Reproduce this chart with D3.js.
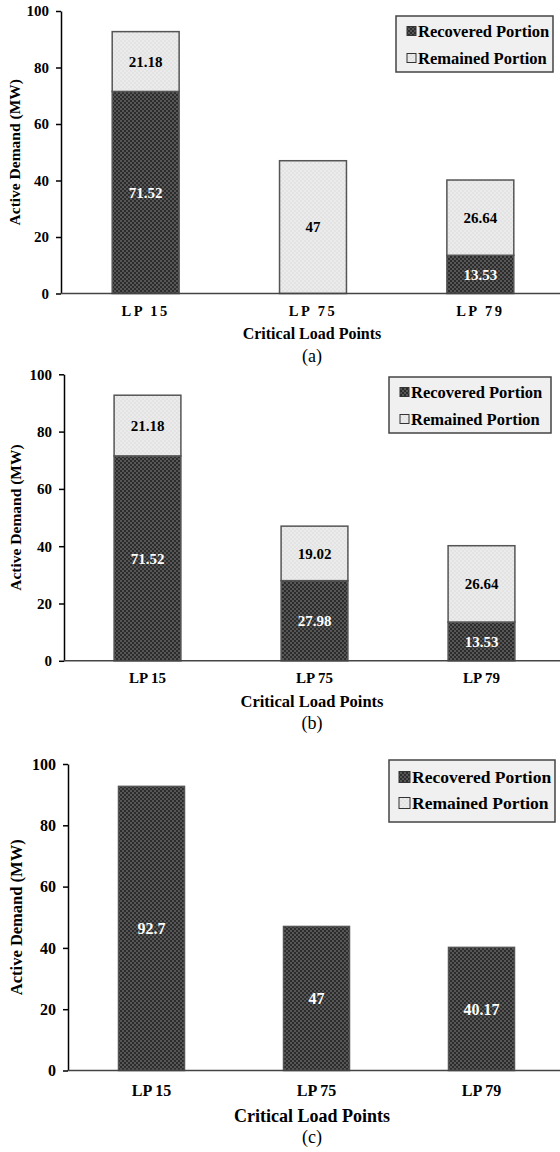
<!DOCTYPE html>
<html>
<head>
<meta charset="utf-8">
<script src="https://cdn.jsdelivr.net/npm/d3@7/dist/d3.min.js"></script>
<style>
  body { margin: 0; background: #fff; }
  svg { display: block; font-family: "Liberation Serif", "Times New Roman", serif; }
</style>
</head>
<body>
<svg id="chart" width="560" height="1152"></svg>
<script>
// data
var categories = ["LP 15", "LP 75", "LP 79"];
var yTicks = [0, 20, 40, 60, 80, 100];
var seriesNames = ["Recovered Portion", "Remained Portion"];

var recoveredA = [71.52, 0, 13.53];
var remainedA  = [21.18, 47, 26.64];
var recoveredB = [71.52, 27.98, 13.53];
var remainedB  = [21.18, 19.02, 26.64];
var recoveredC = [92.7, 47, 40.17];
var remainedC  = [0, 0, 0];

var panelLabels = ["(a)", "(b)", "(c)"];

// layout of the three panels
var panels = [
  {rec: recoveredA, rem: remainedA, x0: 61, xr: [62, 564], yTop: 11, yBot: 293.5,
   tickFs: 15, catFs: 14.5, catSpacing: 2.5, titleFs: 16, ylabFs: 15.5, valFs: 15, ylabX: 20,
   catY: 316, titleY: 339, labY: 362,
   legend: {x: 396, y: 16, w: 157, h: 56, fs: 16.5, sw: 9, r1: 31, r2: 58, sx: 407}},
  {rec: recoveredB, rem: remainedB, x0: 64, xr: [64, 565], yTop: 374.3, yBot: 660.8,
   tickFs: 15, catFs: 15, catSpacing: 0, titleFs: 16.5, ylabFs: 15.5, valFs: 15, ylabX: 21,
   catY: 683, titleY: 707, labY: 729,
   legend: {x: 389, y: 377, w: 162, h: 56, fs: 16.5, sw: 9, r1: 392, r2: 419, sx: 400}},
  {rec: recoveredC, rem: remainedC, x0: 68, xr: [69, 564], yTop: 764, yBot: 1070.5,
   tickFs: 16, catFs: 16, catSpacing: 0, titleFs: 18, ylabFs: 16.5, valFs: 16, ylabX: 22,
   catY: 1096, titleY: 1122, labY: 1143,
   legend: {x: 389, y: 760, w: 166, h: 62, fs: 17.5, sw: 11, r1: 777, r2: 803, sx: 399}}
];

var svg = d3.select("#chart");

// fill patterns
var defs = svg.append("defs");
var pDark = defs.append("pattern").attr("id", "dark")
  .attr("width", 4).attr("height", 4).attr("patternUnits", "userSpaceOnUse");
pDark.append("rect").attr("width", 4).attr("height", 4).attr("fill", "#2c2c2c");
pDark.append("circle").attr("cx", 1).attr("cy", 1).attr("r", 0.9).attr("fill", "#6a6a6a");
pDark.append("circle").attr("cx", 3).attr("cy", 3).attr("r", 0.9).attr("fill", "#6a6a6a");

var pLight = defs.append("pattern").attr("id", "light")
  .attr("width", 4).attr("height", 4).attr("patternUnits", "userSpaceOnUse");
pLight.append("rect").attr("width", 4).attr("height", 4).attr("fill", "#ebebeb");
pLight.append("circle").attr("cx", 1).attr("cy", 1).attr("r", 0.8).attr("fill", "#d9d9d9");
pLight.append("circle").attr("cx", 3).attr("cy", 3).attr("r", 0.8).attr("fill", "#d9d9d9");

var fills = ["url(#dark)", "url(#light)"];
var textColors = ["#fff", "#000"];

panels.forEach(function(p, pi) {
  var g = svg.append("g");

  var x = d3.scaleBand().domain(categories).range(p.xr).padding(0);
  var y = d3.scaleLinear().domain([0, 100]).range([p.yBot, p.yTop]);
  var bw = x.step() * 0.4;

  var rows = categories.map(function(c, i) {
    return {cat: c, rec: p.rec[i], rem: p.rem[i]};
  });
  var stack = d3.stack().keys(["rec", "rem"])(rows);

  // bars
  stack.forEach(function(layer, li) {
    layer.forEach(function(d) {
      var v = d[1] - d[0];
      if (v <= 0) return;
      var cx = x(d.data.cat) + x.bandwidth() / 2;
      g.append("rect")
        .attr("x", cx - bw / 2)
        .attr("y", y(d[1]))
        .attr("width", bw)
        .attr("height", y(d[0]) - y(d[1]))
        .attr("fill", fills[li])
        .attr("stroke", "#555")
        .attr("stroke-width", 1.5);
      g.append("text")
        .attr("x", cx)
        .attr("y", (y(d[0]) + y(d[1])) / 2)
        .attr("dy", "0.35em")
        .attr("text-anchor", "middle")
        .attr("font-size", p.valFs)
        .attr("font-weight", "bold")
        .attr("fill", textColors[li])
        .text(+v.toFixed(2));
    });
  });

  // y axis
  var yAxis = g.append("g")
    .attr("transform", "translate(" + p.x0 + ",0)")
    .call(d3.axisLeft(y).tickValues(yTicks).tickSize(5).tickSizeOuter(0).tickPadding(7));
  yAxis.selectAll("path, line").attr("stroke", "#000").attr("stroke-width", 1.5);
  yAxis.selectAll("text")
    .attr("font-family", "Liberation Serif, Times New Roman, serif")
    .attr("font-size", p.tickFs).attr("font-weight", "bold").attr("fill", "#000");

  // x axis line
  g.append("line")
    .attr("x1", p.x0).attr("x2", 560)
    .attr("y1", y(0)).attr("y2", y(0))
    .attr("stroke", "#444").attr("stroke-width", 1.5);

  // category labels
  g.selectAll(".cat").data(categories).enter().append("text")
    .attr("x", function(d) { return x(d) + x.bandwidth() / 2; })
    .attr("y", p.catY)
    .attr("text-anchor", "middle")
    .attr("font-size", p.catFs)
    .attr("font-weight", "bold")
    .attr("letter-spacing", p.catSpacing)
    .text(function(d) { return d; });

  // axis titles
  g.append("text")
    .attr("x", 312).attr("y", p.titleY)
    .attr("text-anchor", "middle")
    .attr("font-size", p.titleFs).attr("font-weight", "bold")
    .text("Critical Load Points");

  g.append("text")
    .attr("transform", "translate(" + p.ylabX + "," + ((p.yTop + p.yBot) / 2) + ") rotate(-90)")
    .attr("text-anchor", "middle")
    .attr("font-size", p.ylabFs).attr("font-weight", "bold")
    .text("Active Demand (MW)");

  g.append("text")
    .attr("x", 312).attr("y", p.labY)
    .attr("text-anchor", "middle")
    .attr("font-size", 18)
    .text(panelLabels[pi]);

  // legend
  var L = p.legend;
  var lg = g.append("g");
  lg.append("rect")
    .attr("x", L.x).attr("y", L.y).attr("width", L.w).attr("height", L.h)
    .attr("fill", "#f0f0f0").attr("stroke", "#444").attr("stroke-width", 1.5);
  [L.r1, L.r2].forEach(function(ry, i) {
    lg.append("rect")
      .attr("x", L.sx).attr("y", ry - L.sw / 2)
      .attr("width", L.sw).attr("height", L.sw)
      .attr("fill", fills[i]).attr("stroke", "#333").attr("stroke-width", 1);
    lg.append("text")
      .attr("x", L.sx + L.sw + 2).attr("y", ry)
      .attr("dy", "0.35em")
      .attr("font-size", L.fs).attr("font-weight", "bold")
      .text(seriesNames[i]);
  });
});
</script>
</body>
</html>
